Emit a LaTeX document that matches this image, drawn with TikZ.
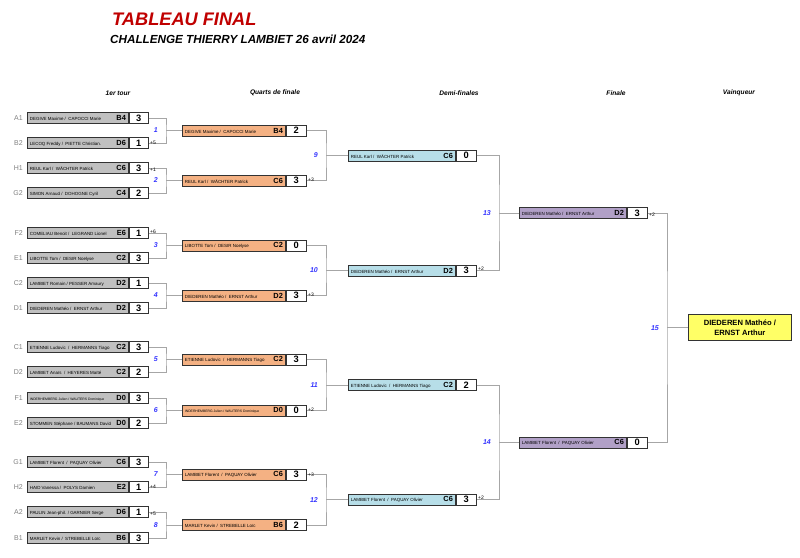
\documentclass[tikz,border=0pt]{standalone}
\usepackage{fontspec}
\setmainfont{Liberation Sans}
\definecolor{rgray}{HTML}{C0C0C0}
\definecolor{qorange}{HTML}{F4B183}
\definecolor{sblue}{HTML}{B7DEE8}
\definecolor{fpurple}{HTML}{B1A0C7}
\definecolor{wyellow}{HTML}{FFFF66}
\definecolor{linegray}{HTML}{A6A6A6}
\definecolor{numblue}{HTML}{3333FF}
\definecolor{titlered}{HTML}{C00000}
\definecolor{seedgray}{HTML}{808080}
\newcommand\pnamefont{\fontsize{4.45}{5.5}\selectfont}
\newcommand\pcodefont{\bfseries\fontsize{7.4}{8}\selectfont}
\newcommand\psmall{\fontsize{3.4}{4}\selectfont}
\tikzset{
  basebox/.style={draw=black!80, line width=0.75pt, inner sep=0pt, minimum height=11pt, anchor=west},
  r1box/.style={basebox, fill=rgray, minimum width=101pt},
  qbox/.style={basebox, fill=qorange, minimum width=103pt},
  sbox/.style={basebox, fill=sblue, minimum width=107pt},
  fbox/.style={basebox, fill=fpurple, minimum width=107pt},
  scorebox/.style={basebox, fill=white, minimum width=20pt, font=\bfseries\fontsize{9.3}{10}\selectfont},
  r1score/.style={scorebox, minimum width=19pt},
  conn/.style={draw=linegray, line width=0.7pt},
  mnum/.style={anchor=east, text=numblue, font=\bfseries\itshape\fontsize{7}{8}\selectfont, inner sep=0pt},
  note/.style={anchor=west, font=\fontsize{5}{6}\selectfont, inner sep=0pt},
  seed/.style={anchor=east, text=seedgray, font=\fontsize{7}{8}\selectfont, inner sep=0pt},
  head/.style={font=\bfseries\itshape\fontsize{6.6}{8}\selectfont, inner sep=0pt},
  winbox/.style={draw=black!80, line width=0.75pt, fill=wyellow, minimum width=103pt, minimum height=26pt, anchor=west, align=center, inner sep=0pt, font=\bfseries\fontsize{7.6}{9.5}\selectfont}
}
% #1 id, #2 style, #3 score style, #4 x, #5 y, #6 name, #7 code, #8 score, #9 inner width
\newcommand\tteam[9]{%
  \node[#2] (#1) at (#4,#5) {\hbox to #9pt{\pnamefont #6\hfil\pcodefont #7}};
  \node[#3] (#1s) at (#1.east) {#8};
}
\begin{document}
\begin{tikzpicture}[x=1pt,y=-1pt]
\useasboundingbox (0,0) rectangle (800,557);
\fill[white] (0,0) rectangle (800,557);

% titles
\node[anchor=west, inner sep=0pt, text=titlered, font=\bfseries\itshape\fontsize{18.2}{20}\selectfont] (title) at (112,19.5) {TABLEAU FINAL};
\node[anchor=west, inner sep=0pt, font=\bfseries\itshape\fontsize{11.7}{13}\selectfont] (subtitle) at (110,39) {CHALLENGE THIERRY LAMBIET 26 avril 2024};

% headers
\node[head] (h1) at (118,93) {1er tour};
\node[head] (h2) at (275,93) {Quarts de finale};
\node[head] (h3) at (459,93) {Demi-finales};
\node[head] (h4) at (616,93) {Finale};
\node[head] (h5) at (739,93) {Vainqueur};

% ---------- first round ----------
\tteam{a1}{r1box}{r1score}{27}{118}{DEGIVE Maxime /\ \ CAPOCCI Marie}{B4}{3}{96}
\tteam{b2}{r1box}{r1score}{27}{143}{LECOQ Freddy /\ \ PIETTE Christian.}{D6}{1}{96}
\tteam{h1e}{r1box}{r1score}{27}{168}{REUL Karl /\ \ WÄCHTER Patrick}{C6}{3}{96}
\tteam{g2}{r1box}{r1score}{27}{193}{SIMON Arnaud /\ \ DOHOGNE Cyril}{C4}{2}{96}
\tteam{f2}{r1box}{r1score}{27}{233}{COMELIAU Benoit /\ \ LEGRAND Lionel}{E6}{1}{96}
\tteam{e1}{r1box}{r1score}{27}{258}{LIBOTTE Tom /\ \ DESIR Noelyse}{C2}{3}{96}
\tteam{c2}{r1box}{r1score}{27}{283}{LAMBIET Romain / PESSER Amaury}{D2}{1}{96}
\tteam{d1}{r1box}{r1score}{27}{308}{DIEDEREN Mathéo /\ \ ERNST Arthur}{D2}{3}{96}
\tteam{c1}{r1box}{r1score}{27}{347}{ETIENNE Ludovic\ \ /\ \ HERMANNS Tiago}{C2}{3}{96}
\tteam{d2}{r1box}{r1score}{27}{372}{LAMBIET Anaïs\ \ /\ \ HEYERES Maïté}{C2}{2}{96}
\tteam{f1}{r1box}{r1score}{27}{398}{\psmall INDERHEMBERG Julien / WAUTERS Dominique}{D0}{3}{96}
\tteam{e2}{r1box}{r1score}{27}{423}{STOMMEN Stéphane / BAUMANS David}{D0}{2}{96}
\tteam{g1}{r1box}{r1score}{27}{462}{LAMBIET Florent\ \ /\ \ PAQUAY Olivier}{C6}{3}{96}
\tteam{h2}{r1box}{r1score}{27}{487}{HAID Vanessa /\ \ POLYS Damien}{E2}{1}{96}
\tteam{a2}{r1box}{r1score}{27}{512}{PAULIN Jean-phil. / GARNIER Serge}{D6}{1}{96}
\tteam{b1}{r1box}{r1score}{27}{538}{MARLET Kevin /\ \ STREBELLE Loïc}{B6}{3}{96}

% seeds
\node[seed] (sa1) at (23,118) {A1};
\node[seed] (sb2) at (23,143) {B2};
\node[seed] (sh1) at (23,168) {H1};
\node[seed] (sg2) at (23,193) {G2};
\node[seed] (sf2) at (23,233) {F2};
\node[seed] (se1) at (23,258) {E1};
\node[seed] (sc2) at (23,283) {C2};
\node[seed] (sd1) at (23,308) {D1};
\node[seed] (sc1) at (23,347) {C1};
\node[seed] (sd2) at (23,372) {D2};
\node[seed] (sf1) at (23,398) {F1};
\node[seed] (se2) at (23,423) {E2};
\node[seed] (sg1) at (23,462) {G1};
\node[seed] (sh2) at (23,487) {H2};
\node[seed] (sa2) at (23,512) {A2};
\node[seed] (sb1) at (23,538) {B1};

% ---------- quarter finals ----------
\tteam{q1}{qbox}{scorebox}{182}{130.5}{DEGIVE Maxime /\ \ CAPOCCI Marie}{B4}{2}{98}
\tteam{q2}{qbox}{scorebox}{182}{180.5}{REUL Karl /\ \ WÄCHTER Patrick}{C6}{3}{98}
\tteam{q3}{qbox}{scorebox}{182}{245.5}{LIBOTTE Tom /\ \ DESIR Noelyse}{C2}{0}{98}
\tteam{q4}{qbox}{scorebox}{182}{295.5}{DIEDEREN Mathéo /\ \ ERNST Arthur}{D2}{3}{98}
\tteam{q5}{qbox}{scorebox}{182}{359.5}{ETIENNE Ludovic\ \ /\ \ HERMANNS Tiago}{C2}{3}{98}
\tteam{q6}{qbox}{scorebox}{182}{410.5}{\psmall INDERHEMBERG Julien / WAUTERS Dominique}{D0}{0}{98}
\tteam{q7}{qbox}{scorebox}{182}{474.5}{LAMBIET Florent\ \ /\ \ PAQUAY Olivier}{C6}{3}{98}
\tteam{q8}{qbox}{scorebox}{182}{525}{MARLET Kevin /\ \ STREBELLE Loïc}{B6}{2}{98}

% ---------- semi finals ----------
\tteam{s1}{sbox}{scorebox}{348}{155.5}{REUL Karl /\ \ WÄCHTER Patrick}{C6}{0}{102}
\tteam{s2}{sbox}{scorebox}{348}{270.5}{DIEDEREN Mathéo /\ \ ERNST Arthur}{D2}{3}{102}
\tteam{s3}{sbox}{scorebox}{348}{385}{ETIENNE Ludovic\ \ /\ \ HERMANNS Tiago}{C2}{2}{102}
\tteam{s4}{sbox}{scorebox}{348}{499.75}{LAMBIET Florent\ \ /\ \ PAQUAY Olivier}{C6}{3}{102}

% ---------- final ----------
\tteam{fa}{fbox}{scorebox}{519}{213}{DIEDEREN Mathéo /\ \ ERNST Arthur}{D2}{3}{102}
\tteam{fb}{fbox}{scorebox}{519}{442.4}{LAMBIET Florent\ \ /\ \ PAQUAY Olivier}{C6}{0}{102}

% ---------- winner ----------
\node[winbox] (win) at (688,327.7) {DIEDEREN Mathéo /\\ERNST Arthur};

% ---------- junctions ----------
\coordinate (j1) at (166,130.5);
\coordinate (j2) at (166,180.5);
\coordinate (j3) at (166,245.5);
\coordinate (j4) at (166,295.5);
\coordinate (j5) at (166,359.5);
\coordinate (j6) at (166,410.5);
\coordinate (j7) at (166,474.5);
\coordinate (j8) at (166,525);
\coordinate (j9) at (326,155.5);
\coordinate (j10) at (326,270.5);
\coordinate (j11) at (326,385);
\coordinate (j12) at (326,499.75);
\coordinate (j13) at (499,213);
\coordinate (j14) at (499,442.4);
\coordinate (j15) at (667,327.7);

% connectors round 1
\draw[conn] (a1s.east) -| (j1) |- (b2s.east); \draw[conn] (j1) -- (q1.west);
\draw[conn] (h1es.east) -| (j2) |- (g2s.east); \draw[conn] (j2) -- (q2.west);
\draw[conn] (f2s.east) -| (j3) |- (e1s.east); \draw[conn] (j3) -- (q3.west);
\draw[conn] (c2s.east) -| (j4) |- (d1s.east); \draw[conn] (j4) -- (q4.west);
\draw[conn] (c1s.east) -| (j5) |- (d2s.east); \draw[conn] (j5) -- (q5.west);
\draw[conn] (f1s.east) -| (j6) |- (e2s.east); \draw[conn] (j6) -- (q6.west);
\draw[conn] (g1s.east) -| (j7) |- (h2s.east); \draw[conn] (j7) -- (q7.west);
\draw[conn] (a2s.east) -| (j8) |- (b1s.east); \draw[conn] (j8) -- (q8.west);
% quarters
\draw[conn] (q1s.east) -| (j9) |- (q2s.east); \draw[conn] (j9) -- (s1.west);
\draw[conn] (q3s.east) -| (j10) |- (q4s.east); \draw[conn] (j10) -- (s2.west);
\draw[conn] (q5s.east) -| (j11) |- (q6s.east); \draw[conn] (j11) -- (s3.west);
\draw[conn] (q7s.east) -| (j12) |- (q8s.east); \draw[conn] (j12) -- (s4.west);
% semis
\draw[conn] (s1s.east) -| (j13) |- (s2s.east); \draw[conn] (j13) -- (fa.west);
\draw[conn] (s3s.east) -| (j14) |- (s4s.east); \draw[conn] (j14) -- (fb.west);
% final
\draw[conn] (fas.east) -| (j15) |- (fbs.east); \draw[conn] (j15) -- (win.west);

% match numbers
\node[mnum] (n1) at ([xshift=-8pt]j1) {1};
\node[mnum] (n2) at ([xshift=-8pt]j2) {2};
\node[mnum] (n3) at ([xshift=-8pt]j3) {3};
\node[mnum] (n4) at ([xshift=-8pt]j4) {4};
\node[mnum] (n5) at ([xshift=-8pt]j5) {5};
\node[mnum] (n6) at ([xshift=-8pt]j6) {6};
\node[mnum] (n7) at ([xshift=-8pt]j7) {7};
\node[mnum] (n8) at ([xshift=-8pt]j8) {8};
\node[mnum] (n9) at ([xshift=-8pt]j9) {9};
\node[mnum] (n10) at ([xshift=-8pt]j10) {10};
\node[mnum] (n11) at ([xshift=-8pt]j11) {11};
\node[mnum] (n12) at ([xshift=-8pt]j12) {12};
\node[mnum] (n13) at ([xshift=-8pt]j13) {13};
\node[mnum] (n14) at ([xshift=-8pt]j14) {14};
\node[mnum] (n15) at ([xshift=-8pt]j15) {15};

% notes
\node[note] (p1) at ([xshift=1.5pt]b2s.east) {+5};
\node[note] (p2) at ([xshift=1.5pt,yshift=-2pt]h1es.east) {+1};
\node[note] (p3) at ([xshift=1.5pt,yshift=1pt]f2s.east) {+6};
\node[note] (p4) at ([xshift=1.5pt]h2s.east) {+4};
\node[note] (p5) at ([xshift=1.5pt,yshift=-2pt]a2s.east) {+5};
\node[note] (p6) at ([xshift=1.5pt,yshift=1pt]q2s.east) {+3};
\node[note] (p7) at ([xshift=1.5pt,yshift=1pt]q4s.east) {+3};
\node[note] (p8) at ([xshift=1.5pt,yshift=1pt]q6s.east) {+2};
\node[note] (p9) at ([xshift=1.5pt]q7s.east) {+3};
\node[note] (p10) at ([xshift=1.5pt,yshift=2pt]s2s.east) {+2};
\node[note] (p11) at ([xshift=1.5pt,yshift=2pt]s4s.east) {+2};
\node[note] (p12) at ([xshift=1.5pt,yshift=-2pt]fas.east) {+2};
\end{tikzpicture}
\end{document}
